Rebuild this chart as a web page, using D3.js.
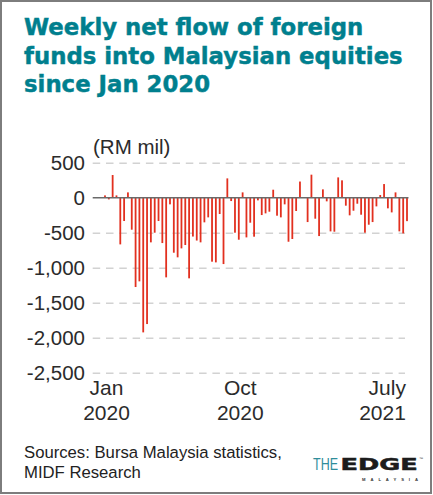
<!DOCTYPE html>
<html lang="en">
<head>
<meta charset="UTF-8">
<title>Weekly net flow of foreign funds into Malaysian equities</title>
<script src="https://cdn.jsdelivr.net/npm/d3@7"></script>
<style>
  body { margin: 0; background: #fff; }
  text { font-family: "Liberation Sans", Arial, sans-serif; }
</style>
</head>
<body>
<svg width="433" height="495" id="mainsvg"></svg>
<script>
// weekly net foreign flow, RM mil, Jan 2020 -> July 2021
const flows = [
  33, -24, 324, 33, -667, -333, 76, -457, -1276, -1195,
  -1924, -1805, -638, -500, -333, -648, -1138, -95, -786, -852,
  -724, -676, -1152, -555, -612, -638, -352, -281, -914, -924,
  -233, -948, 276, -48, -500, -600, 76, -567, -357, -557,
  -38, -248, -224, -200, 114, -257, -281, -95, -629, -590,
  -190, 231, 4, -348, 329, -300, -548, 119, -52, -481,
  -486, 290, 248, -114, -252, -186, -86, -243, -500, -386,
  -348, -124, 38, 195, -152, -210, 76, -481, -510, -335
];
const weeks = flows.map((d, i) => i);
const yTicks = [500, 0, -500, -1000, -1500, -2000, -2500];
const xTickWeeks = [0, 35, 79];
const xTickLabels = [['Jan', '2020'], ['Oct', '2020'], ['July', '2021']];
const titleLines = ['Weekly net flow of foreign', 'funds into Malaysian equities', 'since Jan 2020'];
const sourceLines = ['Sources: Bursa Malaysia statistics,', 'MIDF Research'];

const svg = d3.select('#mainsvg');
const width = +svg.attr('width');
const height = +svg.attr('height');

const teal = '#007f8e';
const barColor = '#e2301f';
const gridLeft = 92.7, gridRight = 405, zeroRight = 408.5;

// frame
svg.append('rect')
  .attr('x', 1).attr('y', 1)
  .attr('width', width - 3).attr('height', height - 3)
  .attr('fill', 'none').attr('stroke', '#7d7d7d').attr('stroke-width', 2);

// title
svg.append('g').selectAll('text').data(titleLines).enter()
  .append('text')
  .attr('x', 24)
  .attr('y', (d, i) => 35 + i * 28.6)
  .style('font-family', '"DejaVu Sans", sans-serif')
  .attr('font-weight', 'bold')
  .attr('font-size', 22.8)
  .attr('fill', teal)
  .attr('stroke', teal).attr('stroke-width', 0.45)
  .text(d => d);

const yScale = d3.scaleLinear().domain([-2500, 500]).range([372.7, 162.7]);
const xScale = d3.scaleBand()
  .domain(weeks)
  .range([105 - 1.912, 407 + 1.912])
  .paddingInner(0.53)
  .paddingOuter(0.265);

const fmt = d3.formatLocale({ decimal: '.', thousands: ',', grouping: [3], currency: ['', ''], minus: '-' }).format(',');

// y axis + dashed grid
const yAxis = d3.axisLeft(yScale)
  .tickValues(yTicks)
  .tickFormat(fmt)
  .tickSize(-(gridRight - gridLeft))
  .tickPadding(7.7);
const yg = svg.append('g').attr('transform', `translate(${gridLeft},0)`).call(yAxis);
yg.select('.domain').remove();
yg.selectAll('.tick line')
  .attr('stroke', '#d2d2d2')
  .attr('stroke-width', 1.5)
  .attr('stroke-dasharray', '7.5,5.8')
  .filter(d => d === 0).remove();
yg.selectAll('.tick text')
  .attr('font-size', 20.5)
  .attr('fill', '#2b2b2b')
  .style('font-family', '"Liberation Sans", Arial, sans-serif');

svg.append('text')
  .attr('x', 93).attr('y', 154)
  .attr('font-size', 20.5)
  .attr('fill', '#2b2b2b')
  .text('(RM mil)');

// bars
svg.append('g').selectAll('rect').data(flows).enter()
  .append('rect')
  .attr('x', (d, i) => xScale(i))
  .attr('width', xScale.bandwidth())
  .attr('y', d => yScale(Math.max(0, d)))
  .attr('height', d => Math.abs(yScale(d) - yScale(0)))
  .attr('fill', barColor);

// zero line
svg.append('line')
  .attr('x1', gridLeft).attr('x2', zeroRight)
  .attr('y1', yScale(0)).attr('y2', yScale(0))
  .attr('stroke', '#6a6a6a').attr('stroke-width', 1.6);

// x labels
const xl = svg.append('g');
xTickWeeks.forEach((w, k) => {
  const last = k === xTickWeeks.length - 1;
  const cx = last ? xScale(w) + xScale.bandwidth() - 2 : xScale(w) + xScale.bandwidth() / 2 + 1.5;
  const t = xl.append('text')
    .attr('text-anchor', last ? 'end' : 'middle')
    .attr('font-size', 21)
    .attr('fill', '#2b2b2b');
  xTickLabels[k].forEach((s, j) => {
    t.append('tspan').attr('x', cx).attr('y', 395 + j * 25).text(s);
  });
});

// sources
svg.append('g').selectAll('text').data(sourceLines).enter()
  .append('text')
  .attr('x', 24)
  .attr('y', (d, i) => 458.3 + i * 19.4)
  .attr('font-size', 16.7)
  .attr('fill', '#222')
  .text(d => d);

// logo
const logo = svg.append('g');
logo.append('text')
  .attr('transform', 'translate(313,470) scale(0.76,1)')
  .attr('font-size', 16.5)
  .attr('fill', '#2f8d9b')
  .text('THE');
logo.append('text')
  .attr('transform', 'translate(340.5,470) scale(1.6,1)')
  .style('font-family', '"DejaVu Sans", sans-serif')
  .attr('font-weight', 'bold')
  .attr('font-size', 16)
  .attr('fill', '#1c1c1c').attr('stroke', '#1c1c1c').attr('stroke-width', 0.5)
  .text('EDGE');
logo.append('text')
  .attr('x', 362).attr('y', 481)
  .attr('font-size', 4.2).attr('font-weight', 'bold')
  .attr('textLength', 56).attr('lengthAdjust', 'spacing')
  .attr('fill', '#333')
  .text('MALAYSIA');
logo.append('text')
  .attr('x', 419).attr('y', 460)
  .attr('font-size', 4)
  .attr('fill', '#333')
  .text('™');
</script>
</body>
</html>
